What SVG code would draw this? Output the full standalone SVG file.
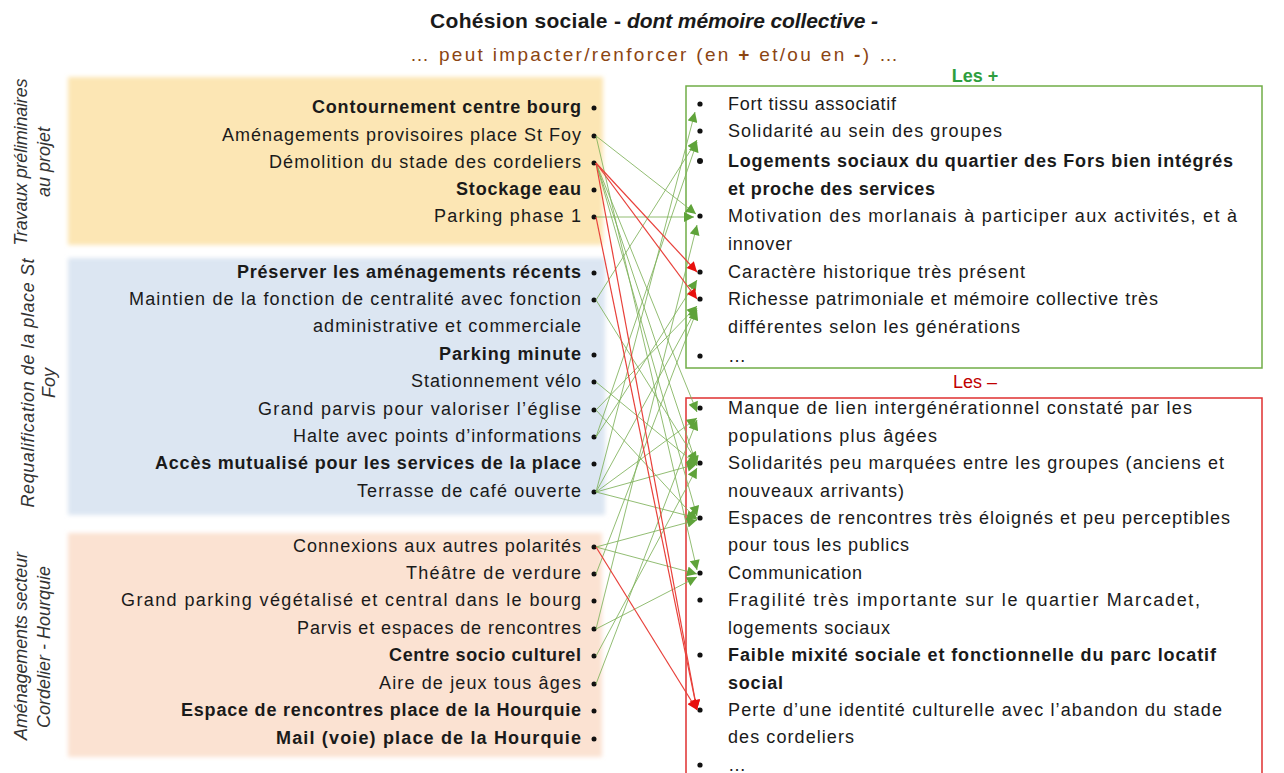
<svg xmlns="http://www.w3.org/2000/svg" width="1284" height="773" viewBox="0 0 1284 773">
<defs>
<style>
text{font-family:"Liberation Sans",Arial,sans-serif;fill:#1a1a1a;}
.l{font-size:18px;text-anchor:end;}
.r{font-size:18px;}
.b{font-weight:bold;}
.side{font-size:18px;font-style:italic;text-anchor:middle;fill:#333;}
.g{stroke:#7FB25A;stroke-opacity:0.85;stroke-width:1;fill:none;}
.rd{stroke:#E8403A;stroke-width:1.2;fill:none;}
.dot{fill:#111;}
</style>
<filter id="soft" x="-5%" y="-5%" width="110%" height="110%"><feGaussianBlur stdDeviation="2"/></filter>
<marker id="ag" viewBox="0 0 10 10" refX="10" refY="5" markerWidth="11" markerHeight="10" markerUnits="userSpaceOnUse" orient="auto"><path d="M0,0 L10,5 L0,10 z" fill="#5FA33A"/></marker>
<marker id="ar" viewBox="0 0 10 10" refX="10" refY="5" markerWidth="11" markerHeight="10" markerUnits="userSpaceOnUse" orient="auto"><path d="M0,0 L10,5 L0,10 z" fill="#E8100E"/></marker>
</defs>
<rect width="1284" height="773" fill="#fff"/>

<g id="title">
<text x="430" y="28" font-size="21" class="b" textLength="191">Cohésion sociale -</text>
<text x="627" y="28" font-size="21" class="b" font-style="italic" textLength="251">dont mémoire collective -</text>
<text x="410" y="61" font-size="19" style="fill:#8B4513" textLength="488">… peut impacter/renforcer (en <tspan font-weight="bold" style="fill:#8B4513">+</tspan> et/ou en <tspan font-weight="bold" style="fill:#8B4513">-</tspan>) …</text>
</g>

<g id="panel-travaux">
<rect x="68" y="77" width="535" height="168" fill="#FCE6B4" filter="url(#soft)"/>
<text class="side" transform="translate(27,162) rotate(-90)" textLength="167">Travaux préliminaires</text>
<text class="side" transform="translate(50,162) rotate(-90)" textLength="70">au projet</text>
<text class="l b" x="581" y="113" textLength="269">Contournement centre bourg</text>
<text class="l" x="581" y="141" textLength="359">Aménagements provisoires place St Foy</text>
<text class="l" x="581" y="168" textLength="312">Démolition du stade des cordeliers</text>
<text class="l b" x="581" y="195" textLength="125">Stockage eau</text>
<text class="l" x="581" y="222" textLength="147">Parking phase 1</text>
<circle class="dot" cx="594" cy="108" r="2.5"/><circle class="dot" cx="594" cy="136" r="2.5"/><circle class="dot" cx="594" cy="163" r="2.5"/><circle class="dot" cx="594" cy="190" r="2.5"/><circle class="dot" cx="594" cy="217" r="2.5"/>
</g>

<g id="panel-requalification">
<rect x="68" y="258" width="537" height="257" fill="#DCE6F2" filter="url(#soft)"/>
<text class="side" transform="translate(34,383) rotate(-90)" textLength="249">Requalification de la place St</text>
<text class="side" transform="translate(55,383) rotate(-90)">Foy</text>
<text class="l b" x="581" y="278" textLength="344">Préserver les aménagements récents</text>
<text class="l" x="581" y="305" textLength="452">Maintien de la fonction de centralité avec fonction</text>
<text class="l" x="581" y="332" textLength="268">administrative et commerciale</text>
<text class="l b" x="581" y="360" textLength="142">Parking minute</text>
<text class="l" x="581" y="387" textLength="170">Stationnement vélo</text>
<text class="l" x="581" y="415" textLength="323">Grand parvis pour valoriser l’église</text>
<text class="l" x="581" y="442" textLength="288">Halte avec points d’informations</text>
<text class="l b" x="581" y="469" textLength="426">Accès mutualisé pour les services de la place</text>
<text class="l" x="581" y="497" textLength="224">Terrasse de café ouverte</text>
<circle class="dot" cx="594" cy="273" r="2.5"/><circle class="dot" cx="594" cy="300" r="2.5"/><circle class="dot" cx="594" cy="355" r="2.5"/><circle class="dot" cx="594" cy="382" r="2.5"/><circle class="dot" cx="594" cy="410" r="2.5"/><circle class="dot" cx="594" cy="437" r="2.5"/><circle class="dot" cx="594" cy="464" r="2.5"/><circle class="dot" cx="594" cy="492" r="2.5"/>
</g>

<g id="panel-cordelier">
<rect x="68" y="533" width="534" height="224" fill="#FBE2D2" filter="url(#soft)"/>
<text class="side" transform="translate(27,646) rotate(-90)" textLength="188">Aménagements secteur</text>
<text class="side" transform="translate(50,647) rotate(-90)" textLength="162">Cordelier - Hourquie</text>
<text class="l" x="581" y="552" textLength="288">Connexions aux autres polarités</text>
<text class="l" x="581" y="579" textLength="175">Théâtre de verdure</text>
<text class="l" x="581" y="606" textLength="460">Grand parking végétalisé et central dans le bourg</text>
<text class="l" x="581" y="634" textLength="284">Parvis et espaces de rencontres</text>
<text class="l b" x="581" y="661" textLength="192">Centre socio culturel</text>
<text class="l" x="581" y="689" textLength="202">Aire de jeux tous âges</text>
<text class="l b" x="581" y="716" textLength="400">Espace de rencontres place de la Hourquie</text>
<text class="l b" x="581" y="744" textLength="305">Mail (voie) place de la Hourquie</text>
<circle class="dot" cx="594" cy="547" r="2.5"/><circle class="dot" cx="594" cy="574" r="2.5"/><circle class="dot" cx="594" cy="601" r="2.5"/><circle class="dot" cx="594" cy="629" r="2.5"/><circle class="dot" cx="594" cy="656" r="2.5"/><circle class="dot" cx="594" cy="684" r="2.5"/><circle class="dot" cx="594" cy="711" r="2.5"/><circle class="dot" cx="594" cy="739" r="2.5"/>
</g>

<g id="box-plus">
<rect x="686" y="86" width="576" height="282" fill="none" stroke="#70AD47" stroke-width="1.5"/>
<text x="975" y="82" font-size="18" class="b" text-anchor="middle" style="fill:#2E9E3E">Les +</text>
<text class="r" x="728" y="110" textLength="168">Fort tissu associatif</text>
<text class="r" x="728" y="137" textLength="274">Solidarité au sein des groupes</text>
<text class="r b" x="728" y="167" textLength="505">Logements sociaux du quartier des Fors bien intégrés</text>
<text class="r b" x="728" y="195" textLength="207">et proche des services</text>
<text class="r" x="728" y="222" textLength="509">Motivation des morlanais à participer aux activités, et à</text>
<text class="r" x="728" y="250" textLength="64">innover</text>
<text class="r" x="728" y="278" textLength="297">Caractère historique très présent</text>
<text class="r" x="728" y="305" textLength="430">Richesse patrimoniale et mémoire collective très</text>
<text class="r" x="728" y="333" textLength="292">différentes selon les générations</text>
<text class="r" x="728" y="362">…</text>
<circle class="dot" cx="700" cy="104" r="2.6"/><circle class="dot" cx="700" cy="131" r="2.6"/><circle class="dot" cx="700" cy="161" r="3"/><circle class="dot" cx="700" cy="216" r="2.6"/><circle class="dot" cx="700" cy="272" r="2.6"/><circle class="dot" cx="700" cy="299" r="2.6"/><circle class="dot" cx="700" cy="356" r="2.6"/>
</g>

<g id="box-moins">
<path d="M686,773 V398 H1262 V773" fill="none" stroke="#E03030" stroke-width="1.5"/>
<text x="975" y="388" font-size="18" text-anchor="middle" style="fill:#C00000">Les –</text>
<text class="r" x="728" y="414" textLength="464">Manque de lien intergénérationnel constaté par les</text>
<text class="r" x="728" y="442" textLength="209">populations plus âgées</text>
<text class="r" x="728" y="469" textLength="496">Solidarités peu marquées entre les groupes (anciens et</text>
<text class="r" x="728" y="497" textLength="176">nouveaux arrivants)</text>
<text class="r" x="728" y="524" textLength="502">Espaces de rencontres très éloignés et peu perceptibles</text>
<text class="r" x="728" y="551" textLength="181">pour tous les publics</text>
<text class="r" x="728" y="579" textLength="134">Communication</text>
<text class="r" x="728" y="606" textLength="472">Fragilité très importante sur le quartier Marcadet,</text>
<text class="r" x="728" y="634" textLength="162">logements sociaux</text>
<text class="r b" x="728" y="661" textLength="488">Faible mixité sociale et fonctionnelle du parc locatif</text>
<text class="r b" x="728" y="689" textLength="55">social</text>
<text class="r" x="728" y="716" textLength="494">Perte d’une identité culturelle avec l’abandon du stade</text>
<text class="r" x="728" y="743" textLength="126">des cordeliers</text>
<text class="r" x="728" y="771">…</text>
<circle class="dot" cx="700" cy="408" r="2.6"/><circle class="dot" cx="700" cy="463" r="2.6"/><circle class="dot" cx="700" cy="518" r="2.6"/><circle class="dot" cx="700" cy="573" r="2.6"/><circle class="dot" cx="700" cy="600" r="2.6"/><circle class="dot" cx="700" cy="655" r="2.6"/><circle class="dot" cx="700" cy="710" r="2.6"/><circle class="dot" cx="700" cy="765" r="2.6"/>
</g>

<g id="connectors">
<line class="g" x1="596" y1="136" x2="696" y2="214" marker-end="url(#ag)"/>
<line class="g" x1="596" y1="136" x2="697" y2="570" marker-end="url(#ag)"/>
<line class="g" x1="596" y1="163" x2="697" y2="412" marker-end="url(#ag)"/>
<line class="g" x1="596" y1="163" x2="697" y2="516" marker-end="url(#ag)"/>
<line class="g" x1="596" y1="163" x2="697" y2="466" marker-end="url(#ag)"/>
<line class="g" x1="596" y1="217" x2="694" y2="217" marker-end="url(#ag)"/>
<line class="g" x1="596" y1="300" x2="697" y2="140" marker-end="url(#ag)"/>
<line class="g" x1="596" y1="300" x2="697" y2="462" marker-end="url(#ag)"/>
<line class="g" x1="596" y1="382" x2="697" y2="465" marker-end="url(#ag)"/>
<line class="g" x1="596" y1="410" x2="697" y2="306" marker-end="url(#ag)"/>
<line class="g" x1="596" y1="410" x2="697" y2="520" marker-end="url(#ag)"/>
<line class="g" x1="596" y1="437" x2="697" y2="280" marker-end="url(#ag)"/>
<line class="g" x1="596" y1="437" x2="697" y2="142" marker-end="url(#ag)"/>
<line class="g" x1="596" y1="492" x2="695" y2="112" marker-end="url(#ag)"/>
<line class="g" x1="596" y1="492" x2="697" y2="308" marker-end="url(#ag)"/>
<line class="g" x1="596" y1="492" x2="697" y2="418" marker-end="url(#ag)"/>
<line class="g" x1="596" y1="492" x2="697" y2="464" marker-end="url(#ag)"/>
<line class="g" x1="596" y1="492" x2="697" y2="518" marker-end="url(#ag)"/>
<line class="g" x1="596" y1="547" x2="697" y2="520" marker-end="url(#ag)"/>
<line class="g" x1="596" y1="547" x2="697" y2="574" marker-end="url(#ag)"/>
<line class="g" x1="596" y1="574" x2="697" y2="310" marker-end="url(#ag)"/>
<line class="g" x1="596" y1="629" x2="697" y2="577" marker-end="url(#ag)"/>
<line class="g" x1="596" y1="629" x2="697" y2="225" marker-end="url(#ag)"/>
<line class="g" x1="596" y1="684" x2="697" y2="420" marker-end="url(#ag)"/>
<line class="g" x1="596" y1="656" x2="697" y2="468" marker-end="url(#ag)"/>
<line class="rd" x1="596" y1="163" x2="697" y2="272" marker-end="url(#ar)"/>
<line class="rd" x1="596" y1="163" x2="697" y2="299" marker-end="url(#ar)"/>
<line class="rd" x1="596" y1="163" x2="697" y2="710" marker-end="url(#ar)"/>
<line class="rd" x1="596" y1="217" x2="697" y2="710" marker-end="url(#ar)"/>
<line class="rd" x1="596" y1="547" x2="697" y2="710" marker-end="url(#ar)"/>
</g>
</svg>
